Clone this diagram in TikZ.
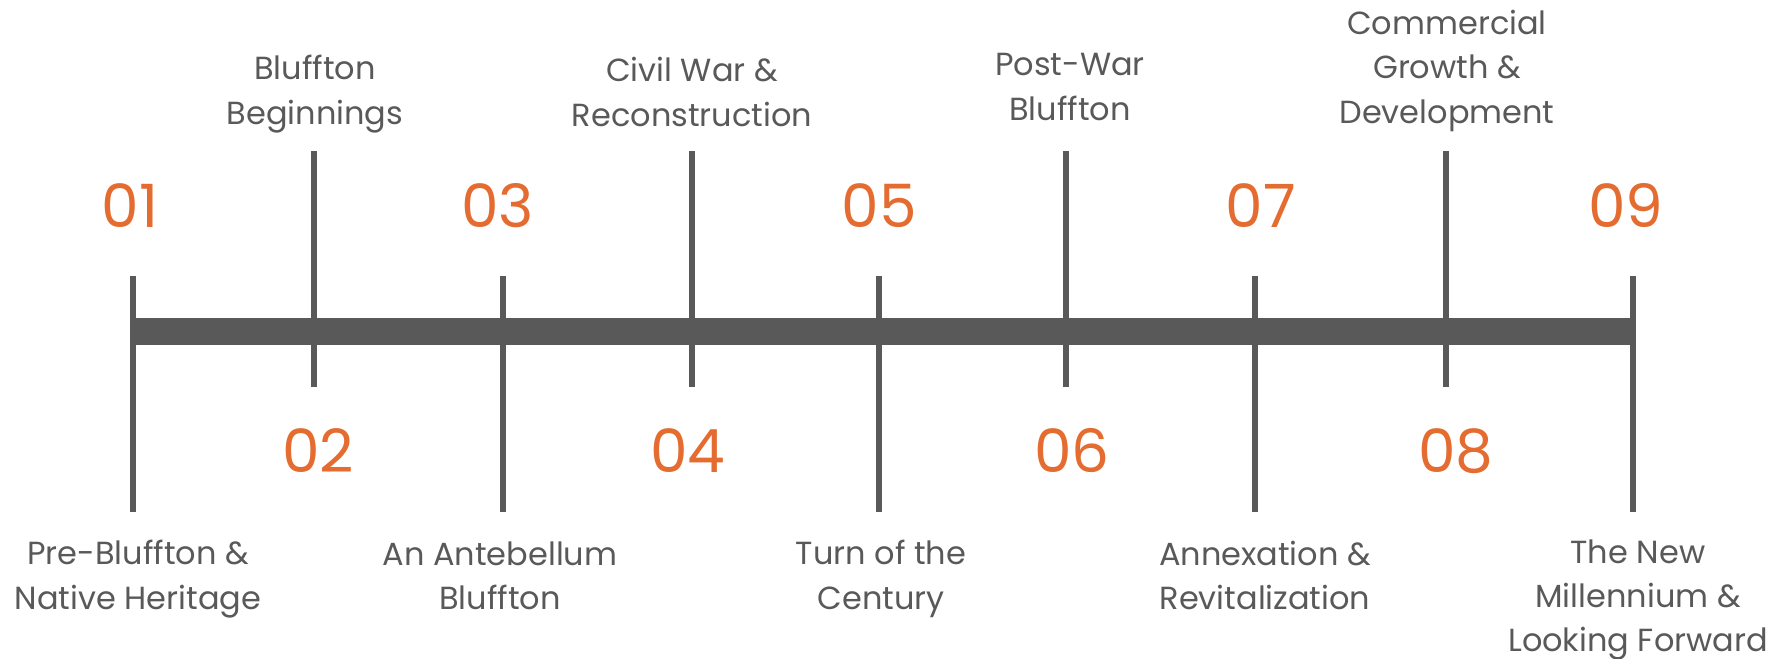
\documentclass[tikz,border=0pt]{standalone}
\usepackage{fontspec}
\setmainfont{Poppins}
\usepackage{tikz}
\usetikzlibrary{positioning}
\usepackage{xcolor}

\definecolor{bargray}{HTML}{595959}
\definecolor{numorange}{HTML}{E46C30}

\begin{document}
\begin{tikzpicture}[
    tick/.style={bargray, line width=1.7pt},
    bar/.style={bargray, line width=7.7pt},
    num/.style={numorange, font=\fontsize{17}{20}\selectfont},
    era/.style={text=bargray, align=center, inner sep=0pt, font=\fontsize{9.1}{12.6}\selectfont}
]
\useasboundingbox (0,0) rectangle (17.81,6.59);

%ticks
\coordinate (t1top) at (1.33,3.83);   \coordinate (t1bot) at (1.33,1.47);
\coordinate (t2top) at (3.14,5.08);   \coordinate (t2bot) at (3.14,2.72);
\coordinate (t3top) at (5.03,3.83);   \coordinate (t3bot) at (5.03,1.47);
\coordinate (t4top) at (6.92,5.08);   \coordinate (t4bot) at (6.92,2.72);
\coordinate (t5top) at (8.79,3.83);   \coordinate (t5bot) at (8.79,1.47);
\coordinate (t6top) at (10.66,5.08);  \coordinate (t6bot) at (10.66,2.72);
\coordinate (t7top) at (12.55,3.83);  \coordinate (t7bot) at (12.55,1.47);
\coordinate (t8top) at (14.455,5.08); \coordinate (t8bot) at (14.455,2.72);
\coordinate (t9top) at (16.33,3.83);  \coordinate (t9bot) at (16.33,1.47);

\coordinate (barstart) at (1.33,3.275);
\coordinate (barend) at (16.33,3.275);
\draw[bar] (barstart) -- (barend);

\draw[tick] (t1top) -- (t1bot);
\draw[tick] (t2top) -- (t2bot);
\draw[tick] (t3top) -- (t3bot);
\draw[tick] (t4top) -- (t4bot);
\draw[tick] (t5top) -- (t5bot);
\draw[tick] (t6top) -- (t6bot);
\draw[tick] (t7top) -- (t7bot);
\draw[tick] (t8top) -- (t8bot);
\draw[tick] (t9top) -- (t9bot);

%numbers
\node[num] (n1) at (1.30,4.53) {01};
\node[num] (n2) at (3.18,2.08) {02};
\node[num] (n3) at (4.975,4.53) {03};
\node[num] (n4) at (6.88,2.08) {04};
\node[num] (n5) at (8.79,4.53) {05};
\node[num] (n6) at (10.72,2.08) {06};
\node[num] (n7) at (12.61,4.53) {07};
\node[num] (n8) at (14.56,2.08) {08};
\node[num] (n9) at (16.26,4.53) {09};

%eras above
\node[era] (e2) at (3.15,5.65) {Bluffton\\Beginnings};
\node[era] (e4) at (6.92,5.67) {Civil War \&\\Reconstruction};
\node[era] (e6) at (10.70,5.72) {Post-War\\Bluffton};
\node[era] (e8) at (14.47,5.88) {Commercial\\Growth \&\\Development};

%eras below
\node[era] (e1) at (1.38,0.80) {Pre-Bluffton \&\\Native Heritage};
\node[era] (e3) at (5.00,0.835) {An Antebellum\\Bluffton};
\node[era] (e5) at (8.81,0.80) {Turn of the\\Century};
\node[era] (e7) at (12.65,0.835) {Annexation \&\\Revitalization};
\node[era] (e9) at (16.38,0.59) {The New\\Millennium \&\\Looking Forward};

\end{tikzpicture}
\end{document}
